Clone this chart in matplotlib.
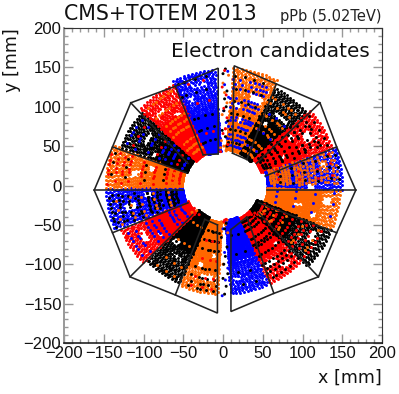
import numpy as np
import matplotlib
matplotlib.use("Agg")
import matplotlib.pyplot as plt

RED, BLUE, ORANGE, BLACK = "#ff0000", "#0000ff", "#ff6600", "#000000"

# detector outline vertices (mm)
outline_right_x = [12, 14, 67, 122, 143, 167, 143, 120, 64, 10, 10]
outline_right_y = [41, 152, 129, 105, 49, -6, -60, -116, -137, -160, -56]
outline_left_x = [-7, -7, -60, -117, -139, -162, -139, -116, -60, -6, -6]
outline_left_y = [-50, -162, -139, -116, -60, -6, 49, 105, 126, 149, 40]
spoke_outer_x = [67, 122, 143, 167, 143, 120, 64, -60, -117, -139, -162, -139, -116, -60]
spoke_outer_y = [129, 105, 49, -6, -60, -116, -137, -139, -116, -60, -6, 49, 105, 126]
spoke_inner_x = [30, 42, 53, 55, 45, 45, 30, -23, -38, -44, -50, -46, -44, -25]
spoke_inner_y = [33, 28, 12, -6, -22, -35, -40, -43, -37, -22, -6, 16, 28, 39]
inner_link_x = [12, 30, -25, -7, 10, 30, -7, -23]
inner_link_y = [41, 33, 39, 40, -56, -40, -50, -43]

# radial rows of hits and their angular offsets (estimated)
rows_r = [44, 46.4, 48.8, 51.2, 53.6, 56, 58.4, 60.8, 63.2, 65.6, 68, 70.4, 72.8, 75.2, 77.6,
          80, 82.4, 84.8, 87.2, 89.6, 92, 94.4, 96.8, 99.2, 101.6, 104, 106.4, 108.8, 111.2,
          113.6, 116, 118.4, 120.8, 123.2, 125.6, 128, 130.4, 132.8, 135.2, 137.6, 140, 142.4,
          144.8, 147.2, 149.6]
rows_shift = [0.0, 0.5, 0.2, 0.7, 0.3, 0.1, 0.6, 0.2, 0.8, 0.4, 0.1, 0.6, 0.3, 0.7, 0.4,
              0.0, 0.5, 0.2, 0.7, 0.3, 0.1, 0.6, 0.2, 0.8, 0.4, 0.1, 0.6, 0.3, 0.7, 0.4,
              0.0, 0.5, 0.2, 0.7, 0.3, 0.1, 0.6, 0.2, 0.8, 0.4, 0.1, 0.6, 0.3, 0.7, 0.4]

# the sixteen sectors: dominant colour, strip angles (deg), radial reach
main_color = [ORANGE, BLACK, RED, BLUE, ORANGE, BLACK, RED, BLUE,
              ORANGE, BLACK, RED, BLUE, ORANGE, BLACK, RED, BLUE]
main_angles = [
    [63, 64, 65, 66, 67, 68, 69, 70, 71, 72, 73, 74, 75, 76, 77, 78, 79, 80, 81, 82, 83, 84, 85],
    [41, 42, 43, 44, 45, 46, 47, 48, 49, 50, 51, 52, 53, 54, 55, 56, 57, 58, 59, 60, 61, 62],
    [19, 20, 21, 22, 23, 24, 25, 26, 27, 28, 29, 30, 31, 32, 33, 34, 35, 36, 37, 38, 39, 40, 41],
    [-2, -1, 0, 1, 2, 3, 4, 5, 6, 7, 8, 9, 10, 11, 12, 13, 14, 15, 16, 17, 18],
    [-22, -21, -20, -19, -18, -17, -16, -15, -14, -13, -12, -11, -10, -9, -8, -7, -6, -5, -4, -3],
    [-44, -43, -42, -41, -40, -39, -38, -37, -36, -35, -34, -33, -32, -31, -30, -29, -28, -27, -26, -25, -24, -23],
    [-65, -64, -63, -62, -61, -60, -59, -58, -57, -56, -55, -54, -53, -52, -51, -50, -49, -48, -47, -46, -45],
    [-86, -85, -84, -83, -82, -81, -80, -79, -78, -77, -76, -75, -74, -73, -72, -71, -70, -69, -68, -67, -66],
    [-113, -112, -111, -110, -109, -108, -107, -106, -105, -104, -103, -102, -101, -100, -99, -98, -97, -96, -95, -94, -93],
    [-135, -134, -133, -132, -131, -130, -129, -128, -127, -126, -125, -124, -123, -122, -121, -120, -119, -118, -117, -116, -115, -114],
    [-156, -155, -154, -153, -152, -151, -150, -149, -148, -147, -146, -145, -144, -143, -142, -141, -140, -139, -138, -137, -136],
    [-178, -177, -176, -175, -174, -173, -172, -171, -170, -169, -168, -167, -166, -165, -164, -163, -162, -161, -160, -159, -158],
    [160, 161, 162, 163, 164, 165, 166, 167, 168, 169, 170, 171, 172, 173, 174, 175, 176, 177, 178, 179, 180, 181],
    [137, 138, 139, 140, 141, 142, 143, 144, 145, 146, 147, 148, 149, 150, 151, 152, 153, 154, 155, 156, 157, 158, 159],
    [115, 116, 117, 118, 119, 120, 121, 122, 123, 124, 125, 126, 127, 128, 129, 130, 131, 132, 133, 134, 135, 136, 137],
    [94, 95, 96, 97, 98, 99, 100, 101, 102, 103, 104, 105, 106, 107, 108, 109, 110, 111, 112, 113, 114, 115],
]
main_r_in = [46, 46, 50, 54, 56, 46, 46, 44, 46, 44, 48, 50, 50, 48, 46, 44]
main_r_out = [150, 140, 146, 150, 149, 148, 138, 138, 138, 137, 140, 149, 149, 138, 143, 149]

# radius beyond which a sector's cloud turns into a checkered, thinner pattern
thin_from = [96, 100, 105, 60, 125, 100, 105, 100, 110, 95, 105, 75, 90, 82, 108, 96]

# white gaps in the clouds: sector, angle, radius, half-width (deg), half-height (mm)
gap_sector = [0, 0, 0, 1, 1, 2, 2, 2, 3, 3, 4, 4, 4, 5, 5, 6, 6, 6, 7, 7,
              8, 8, 8, 9, 9, 10, 10, 11, 11, 12, 12, 13, 13, 14, 14, 15, 15]
gap_theta = [70, 76, 80, 50, 56, 30, 26, 36, -1, 12, -8, -14, -18, -36, -30, -58, -52, -48, -74, -82,
             -100, -106, -98, -124, -130, -148, -142, -168, -174, 172, 166, 148, 155, 130, 122, 104, 110]
gap_r = [118, 86, 104, 112, 94, 122, 82, 104, 110, 128, 132, 96, 118, 116, 128, 114, 126, 98, 97, 120,
         118, 104, 90, 108, 92, 118, 100, 120, 96, 112, 92, 112, 96, 122, 108, 132, 116]
gap_dtheta = [4, 2, 2, 5, 2, 3, 2, 2, 3, 2, 2, 1.5, 2, 4, 3, 4, 2, 2, 8, 2, 4, 2, 2, 4, 3, 4, 2, 2, 2, 2, 2, 4, 2, 3, 2, 4, 2]
gap_dr = [5, 4, 3, 3, 3, 4, 3, 3, 4, 4, 5, 6, 3, 2, 3, 3, 3, 3, 2, 3, 3, 4, 3, 3, 3, 3, 3, 8, 5, 6, 3, 3, 3, 3, 3, 3, 3]

# sparse overlay hits: colour, angles, radii
over_color = [BLUE, BLACK, ORANGE, BLUE, BLACK, BLACK, ORANGE, ORANGE, RED, BLACK, BLUE,
              RED, ORANGE, BLACK, BLUE, BLACK, BLACK, RED,
              BLACK, ORANGE, BLUE, RED, BLACK, BLACK, ORANGE, RED, ORANGE, BLACK, BLUE, RED,
              ORANGE, RED, BLUE, BLACK, RED, ORANGE, BLACK, RED]
over_angles = [
    [65, 69, 74, 79, 83, 71, 67], [67, 72, 77, 82],
    [44, 49, 53, 58, 60, 47],
    [44, 52, 57],
    [22, 27, 32, 37, 24, 34], [21, 25, 30, 35, 39],
    [1, 5, 9, 13, 17, 3, 11, 15, 7], [0, 6, 12, 16, 3, 9], [4, 10, 15], [2, 8, 14],
    [-18, -12, -6],
    [-42, -36, -30, -26, -33, -39], [-40, -33, -27, -38],
    [-62, -56, -50, -47, -59, -53, -64],
    [-83, -77, -71, -68, -80, -74], [-81, -73],
    [-110, -105, -100, -96, -103], [-108, -102, -97],
    [-132, -127, -122, -118, -125], [-130, -124, -119],
    [-154, -149, -144, -140, -151, -146],
    [-152, -146, -141],
    [-175, -170, -165, -160, -168, -163, -172], [-173, -167, -162, -176], [-174, -164, -169, -161],
    [162, 167, 172, 177, 165, 170], [164, 170, 175, 178], [163, 168, 174],
    [140, 145, 150, 155, 148], [142, 148, 154],
    [118, 123, 128, 133, 125, 120, 130], [120, 126, 131, 135, 122],
    [96, 101, 106, 111, 103, 108], [98, 104, 110, 113], [99, 107],
]
over_radii = [
    [52, 60, 66, 76, 84, 88, 100, 106, 112, 124, 130, 136], [56, 72, 92, 108, 124, 140],
    [52, 60, 68, 84, 92, 104, 120, 128],
    [60, 84, 108],
    [56, 60, 72, 80, 88, 104, 112, 120, 132], [64, 80, 96, 112, 128, 140],
    [60, 64, 68, 72, 76, 80, 84, 92, 96, 100, 108, 116, 124, 132, 140], [64, 72, 80, 96, 104, 112, 128, 144], [70, 96, 120, 138], [72, 88, 104, 120, 136, 146],
    [68, 92, 116, 140],
    [56, 68, 76, 84, 96, 108, 116, 124, 136], [60, 74, 88, 112, 132],
    [52, 58, 64, 76, 84, 88, 100, 112, 118, 124, 132],
    [56, 66, 76, 96, 116, 122, 132], [64, 88, 112, 128],
    [60, 72, 84, 108, 120, 128, 134], [72, 96, 120, 132],
    [56, 72, 82, 92, 108, 124, 132], [60, 88, 116, 130],
    [60, 70, 76, 92, 100, 108, 124, 134],
    [68, 96, 120],
    [60, 66, 72, 84, 90, 96, 108, 120, 132, 144], [64, 72, 80, 96, 112, 128, 140], [70, 88, 104, 118, 136],
    [56, 64, 72, 88, 104, 120, 128, 136, 146], [64, 84, 108, 132], [76, 100, 124, 142],
    [56, 72, 80, 88, 104, 120, 132], [64, 92, 124],
    [56, 64, 72, 88, 96, 104, 120, 136], [60, 70, 80, 100, 116, 132],
    [52, 62, 68, 84, 100, 116, 132, 144], [60, 76, 92, 124, 140], [70, 110, 136],
]

# hits in the two gaps and near the hole (mm)
gap_color = [ORANGE] * 22 + [BLUE] * 12 + [BLACK] * 20 + [RED] * 18
gap_x = [4, 1, -2, 6, 3, -1, 5, 2, 0, 7, 4, -3, 5, 1, 3, -2, 6, 0, -39, -33, 53, 46,
         6, 2, 7, 1, 4, 5, -1, 3, 6, 2, 8, 0,
         3, 0, 5, 2, 4, 1, 6, -1, 3, 5, 2, 4, 0, 6, 1, 3, 5, -2, 2, 4,
         2, -1, 4, 1, 5, 3, 0, 6, -3, 2, 4, 1, -36, -30, 52, 57, 36, 40]
gap_y = [45, 50, 57, 62, 72, 90, 105, 118, 130, 140, 44, 48, -44, -47, -50, -46, -60, -100, -34, -32, -32, -35,
         145, 128, 112, 95, 80, 60, -140, -120, -105, -85, -70, -55,
         148, 142, 120, 110, 100, 95, 82, 70, 62, 50, -138, -128, -118, -112, -100, -90, -78, -66, -55, -48,
         146, 125, 115, 98, 86, 72, 66, 52, 43, -44, -43, -46, -29, -37, -36, -30, -37, -35]

fig = plt.figure(figsize=(3.99, 3.94), dpi=100)
ax = fig.add_axes([64 / 399, 1 - 343 / 394, 318 / 399, 315 / 394])
MS = 4.6

for i, color in enumerate(main_color):
    px, py = [], []
    for j, (r, dth) in enumerate(zip(rows_r, rows_shift)):
        if r < main_r_in[i] or r > main_r_out[i]:
            continue
        for c, th in enumerate(main_angles[i]):
            if r > thin_from[i] and (c + j) % 2:
                continue
            t = th + dth - 0.35
            hole = False
            for s, gt, gr, gdt, gdr in zip(gap_sector, gap_theta, gap_r, gap_dtheta, gap_dr):
                if s == i and abs(t - gt) < gdt and abs(r - gr) < gdr:
                    hole = True
            if not hole:
                px.append(r * np.cos(np.radians(t)))
                py.append(r * np.sin(np.radians(t)))
    ax.scatter(px, py, s=MS, c=color, linewidths=0, zorder=2)

for n, (color, angs, rads) in enumerate(zip(over_color, over_angles, over_radii)):
    px, py = [], []
    for k, r in enumerate(rads):
        for th in angs:
            t = th + rows_shift[(k + n) % len(rows_shift)] * 3
            px.append(r * np.cos(np.radians(t)))
            py.append(r * np.sin(np.radians(t)))
    ax.scatter(px, py, s=MS, c=color, linewidths=0, zorder=3)

ax.scatter(gap_x, gap_y, s=MS, c=gap_color, linewidths=0, zorder=3)

line = dict(color="#222222", lw=1.15, zorder=4, solid_joinstyle="miter")
ax.plot(outline_right_x, outline_right_y, **line)
ax.plot(outline_left_x, outline_left_y, **line)
for xo, yo, xi, yi in zip(spoke_outer_x, spoke_outer_y, spoke_inner_x, spoke_inner_y):
    ax.plot([xo, xi], [yo, yi], **line)
for a in range(0, len(inner_link_x), 2):
    ax.plot(inner_link_x[a:a + 2], inner_link_y[a:a + 2], **line)

ax.set_xlim(-200, 200)
ax.set_ylim(-200, 200)
ax.set_xticks(np.arange(-200, 201, 50))
ax.set_yticks(np.arange(-200, 201, 50))
ax.set_xticks(np.arange(-200, 201, 10), minor=True)
ax.set_yticks(np.arange(-200, 201, 10), minor=True)
ax.tick_params(which="major", direction="in", length=6.7, width=1.0, color="#999999",
               top=True, right=True, labelsize=12, pad=2)
ax.tick_params(which="minor", direction="in", length=3.0, width=1.0, color="#999999",
               top=True, right=True)
for lab in ax.get_xticklabels() + ax.get_yticklabels():
    lab.set_fontfamily("Liberation Sans")
    lab.set_color("#111111")
ax.spines["left"].set_color("#999999")
ax.spines["left"].set_linewidth(1.4)
ax.spines["bottom"].set_color("#111111")
ax.spines["bottom"].set_linewidth(1.1)
ax.spines["top"].set_color("#333333")
ax.spines["top"].set_linewidth(0.8)
ax.spines["right"].set_color("#333333")
ax.spines["right"].set_linewidth(0.8)

fig.text(64 / 399, 1 - 20 / 394, "CMS+TOTEM 2013", fontsize=14.8, color="#111111", ha="left", va="baseline")
fig.text(382 / 399, 1 - 21 / 394, "pPb (5.02TeV)", fontsize=10.5, color="#222222", ha="right", va="baseline")
fig.text(370 / 399, 1 - 57 / 394, "Electron candidates", fontsize=14.4, color="#111111", ha="right", va="baseline")
fig.text(382 / 399, 1 - 383 / 394, "x [mm]", fontsize=12.6, color="#111111", ha="right", va="baseline")
fig.text(12 / 399, 1 - 28 / 394, "y [mm]", fontsize=12.6, color="#111111", ha="center", va="top", rotation=90)

fig.savefig("out.png", dpi=100)
